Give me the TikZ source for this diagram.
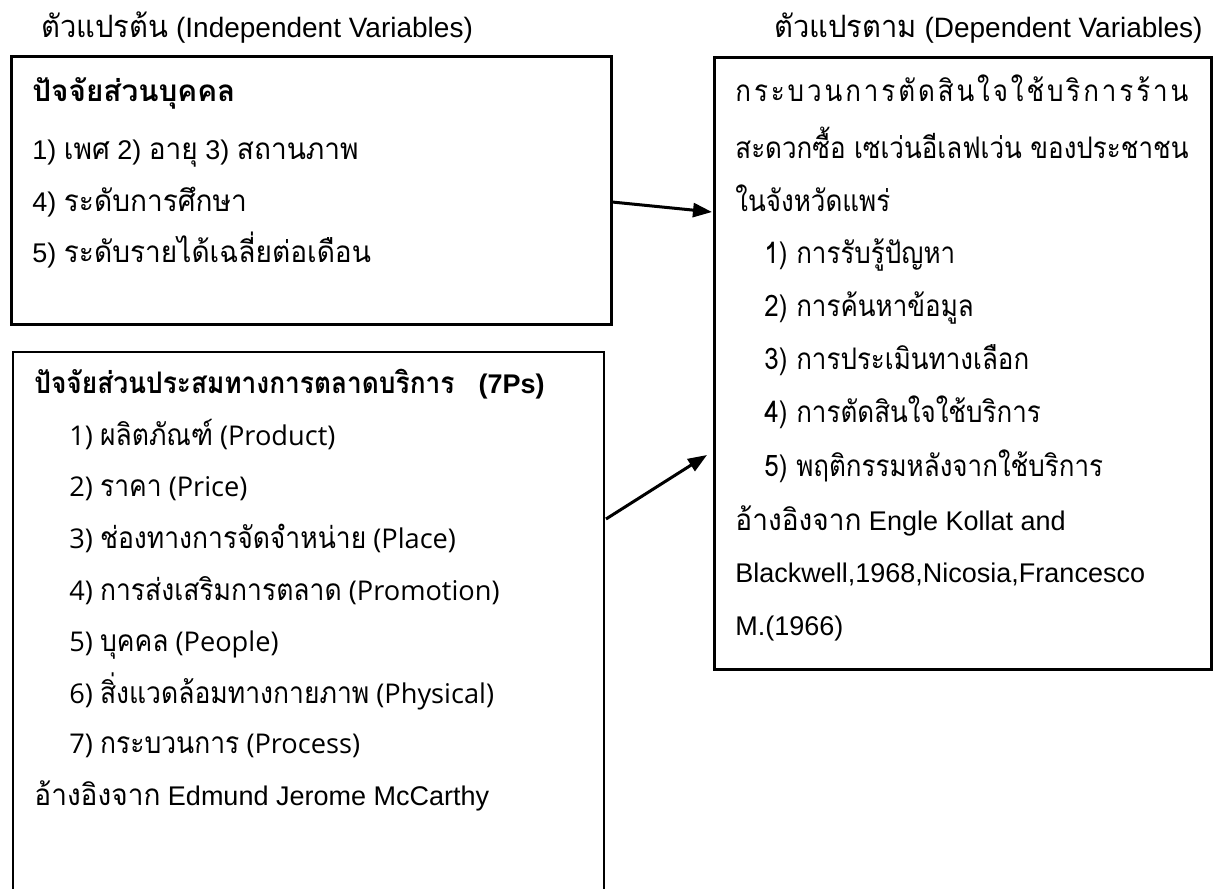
\documentclass[tikz,border=0pt]{standalone}
\usepackage{fontspec}
\setmainfont{Liberation Sans}
\newfontfamily\thn[Script=Thai,Scale=1.1,FakeStretch=0.945]{Loma}
\newfontfamily\thb[Script=Thai,Scale=1.1,FakeStretch=1.0]{Loma}
\newfontfamily\thc[Script=Thai,Scale=1.1,FakeStretch=0.875]{Loma}
\newfontfamily\thw[Script=Thai,Scale=1.1,FakeStretch=0.885]{Loma}
\newfontfamily\osans{Open Sans}
\newcommand{\Tn}[1]{{\thn #1}}
\newcommand{\Tc}[1]{{\thc #1}}
\newcommand{\Tw}[1]{{\thw #1}}
\usetikzlibrary{arrows.meta}
\tikzset{
  box/.style={draw, line width=1.5pt, anchor=north west, inner sep=0pt},
  thinbox/.style={draw, line width=1pt, anchor=north west, inner sep=0pt},
  txt/.style={anchor=base west, inner sep=0pt, font=\fontsize{13.5}{16}\selectfont},
  ttl/.style={inner sep=0pt, font=\fontsize{14}{16}\selectfont},
  itm/.style={anchor=base west, inner sep=0pt, font=\fontsize{13.6}{16}\selectfont\osans},
  conn/.style={line width=1.5pt, -{Triangle[length=9.5pt,width=7pt]}}
}
\begin{document}
\begin{tikzpicture}[x=0.5pt,y=-0.5pt]
\useasboundingbox (0,0) rectangle (1213,888);
% titles
\node[ttl, anchor=base west] (tl) at (41,38) {\Tn{ตัวแปรต้น} (Independent Variables)};
\node[ttl, anchor=base east] (tr) at (1203,38) {\Tn{ตัวแปรตาม} (Dependent Variables)};
% boxes
\node[box, minimum width=300pt, minimum height=134pt] (box1) at (10,55) {};
\node[thinbox, minimum width=295.5pt, minimum height=290pt] (box2) at (12,351) {};
\node[box, minimum width=248.5pt, minimum height=306pt] (box3) at (713,56) {};
% box1 text
\node[txt] (b1a) at (32,102) {\bfseries\thb ปัจจัยส่วนบุคคล};
\node[txt] (b1b) at (32,159) {1) \Tn{เพศ} 2) \Tn{อายุ} 3) \Tn{สถานภาพ}};
\node[txt] (b1c) at (32,211) {4) \Tn{ระดับการศึกษา}};
\node[txt] (b1d) at (32,262) {5) \Tn{ระดับรายได้เฉลี่ยต่อเดือน}};
% box2 text
\node[txt] (b2t) at (34,393) {\bfseries\Tw{ปัจจัยส่วนประสมทางการตลาดบริการ}\hspace{12pt}(7Ps)};
\node[itm] (b2i1) at (69,445) {1) \Tw{ผลิตภัณฑ์} (Product)};
\node[itm] (b2i2) at (69,496) {2) \Tw{ราคา} (Price)};
\node[itm] (b2i3) at (69,548) {3) \Tw{ช่องทางการจัดจำหน่าย} (Place)};
\node[itm] (b2i4) at (69,600) {4) \Tw{การส่งเสริมการตลาด} (Promotion)};
\node[itm] (b2i5) at (69,651) {5) \Tw{บุคคล} (People)};
\node[itm] (b2i6) at (69,703) {6) \Tw{สิ่งแวดล้อมทางกายภาพ} (Physical)};
\node[itm] (b2i7) at (69,753) {7) \Tw{กระบวนการ} (Process)};
\node[txt] (b2r) at (34,805) {\Tn{อ้างอิงจาก} Edmund Jerome McCarthy};
% box3 text
\node[txt] (b3a) at (735,101) {\Tc{\makebox[226.5pt][l]{ก\hfill ร\hfill ะ\hfill บ\hfill ว\hfill น\hfill ก\hfill า\hfill ร\hfill ตั\hfill ด\hfill สิ\hfill น\hfill ใ\hfill จ\hfill ใ\hfill ช้\hfill บ\hfill ริ\hfill ก\hfill า\hfill ร\hfill ร้\hfill า\hfill น}}};
\node[txt] (b3b) at (735,158) {\Tc{\makebox[226.5pt][s]{สะดวกซื้อ เซเว่นอีเลฟเว่น ของประชาชน}}};
\node[txt] (b3c) at (735,211) {\Tc{ในจังหวัดแพร่}};
\node[txt] (b3i1) at (764,263) {\Tc{1) การรับรู้ปัญหา}};
\node[txt] (b3i2) at (764,316) {\Tc{2) การค้นหาข้อมูล}};
\node[txt] (b3i3) at (764,369) {\Tc{3) การประเมินทางเลือก}};
\node[txt] (b3i4) at (764,422) {\Tc{4) การตัดสินใจใช้บริการ}};
\node[txt] (b3i5) at (764,476) {\Tc{5) พฤติกรรมหลังจากใช้บริการ}};
\node[txt] (b3r1) at (735,530) {\Tn{อ้างอิงจาก} Engle Kollat and};
\node[txt] (b3r2) at (735,582) {Blackwell,1968,Nicosia,Francesco};
\node[txt] (b3r3) at (735,635) {M.(1966)};
% connectors
\coordinate (a1s) at (612,202);
\coordinate (a1e) at (712,212);
\coordinate (a2s) at (606,519);
\coordinate (a2e) at (707,455);
\draw[conn] (a1s) -- (a1e);
\draw[conn] (a2s) -- (a2e);
\end{tikzpicture}
\end{document}
